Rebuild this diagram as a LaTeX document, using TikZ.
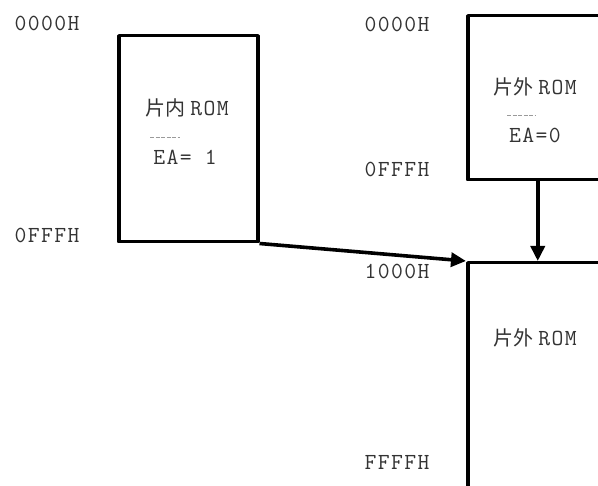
\documentclass[tikz,border=0pt]{standalone}
\usepackage{fontspec}
\setmonofont{Latin Modern Mono}[LetterSpace=6]
\newfontfamily\cjk{Noto Sans CJK SC}
\usepackage{tikz}
\usetikzlibrary{arrows.meta}
\definecolor{addrgray}{HTML}{333333}
\definecolor{bargray}{HTML}{9A9A9A}

\begin{document}
\begin{tikzpicture}[
  x=1pt, y=-1pt,
  >={Triangle[length=15pt,width=14pt]},
  every node/.style={font=\fontsize{23}{27}\selectfont\ttfamily, text=addrgray, inner sep=0pt},
  mem/.style={draw=black, line width=3.5pt, line join=round, anchor=north west, minimum width=140pt},
  bar/.style={draw=bargray, line width=0.8pt, dash pattern=on 4pt off 1.5pt},
  feed/.style={->, line width=3.6pt, draw=black}
]
\useasboundingbox (0,0) rectangle (598,486);
\clip (0,0) rectangle (598,486);

% memory blocks
\node[mem, minimum width=139pt, minimum height=206pt] (romin) at (117,34) {};
\node[mem, minimum height=164pt] (romext) at (466,14) {};
\node[mem, minimum height=250pt] (romhi) at (466,261) {};

% block texts
\node (inlab) at (187,108) {{\cjk\fontsize{20}{24}\selectfont 片内}\hspace{5pt}ROM};
\node (eaone) at (185,157) {EA= 1};
\node (extlab) at (535,87) {{\cjk\fontsize{20}{24}\selectfont 片外}\hspace{5pt}ROM};
\node (eazero) at (535,135) {EA=0};
\node (hilab) at (535,338) {{\cjk\fontsize{20}{24}\selectfont 片外}\hspace{5pt}ROM};
\draw[bar] (150,137) -- (180,137);
\draw[bar] (507,115) -- (535,115);

% addresses
\node (addra) at (47,23) {0000H};
\node (addrb) at (47,235) {0FFFH};
\node (addrc) at (397,24) {0000H};
\node (addrd) at (397,169) {0FFFH};
\node (addre) at (397,271) {1000H};
\node (addrf) at (397,462) {FFFFH};

% arrows
\draw[feed] (romin.south east) -- (romhi.north west);
\draw[feed] (romext.south) -- (romext.south |- romhi.north);
\end{tikzpicture}
\end{document}
